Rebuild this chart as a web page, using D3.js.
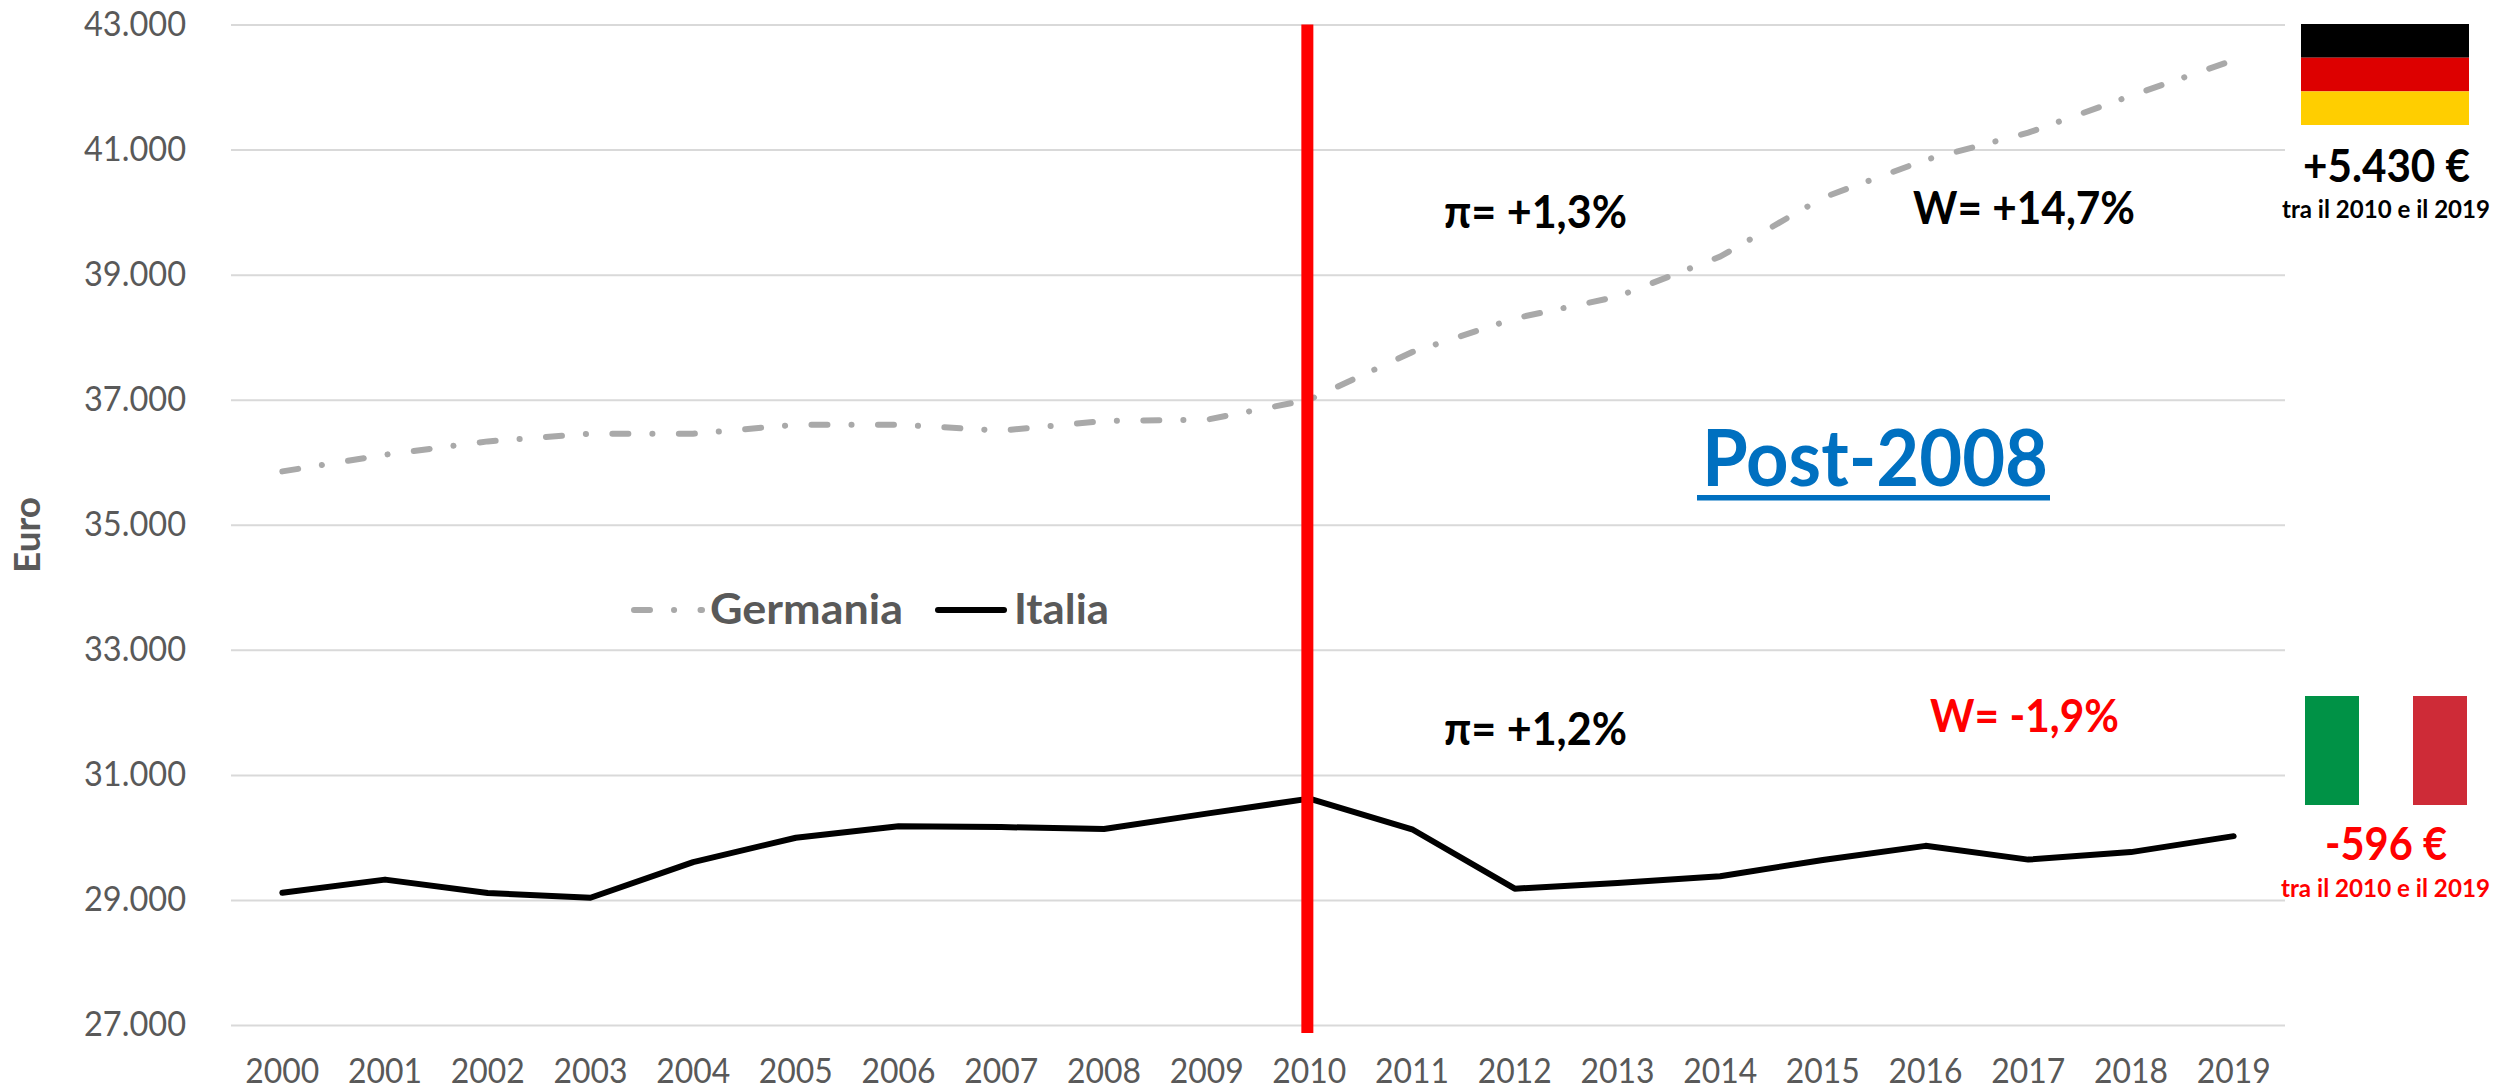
<!DOCTYPE html>
<html lang="en">
<head>
    <meta charset="UTF-8">
    <title>Germania / Italia Post-2008</title>
    <script src="https://d3js.org/d3.v7.min.js"></script>
    <style>
        body { margin: 0; background: white; }
        text { font-family: Lato, "Open Sans", sans-serif; }
    </style>
</head>
<body>
<script>
    const years = ["2000","2001","2002","2003","2004","2005","2006","2007","2008","2009",
        "2010","2011","2012","2013","2014","2015","2016","2017","2018","2019"];
    const germania = [35853,36120,36333,36456,36456,36600,36600,36505,36660,36680,
        37000,37760,38300,38648,39288,40230,40835,41270,41860,42430];
    const italia = [29115,29325,29110,29035,29605,29995,30180,30165,30135,30380,
        30620,30130,29180,29270,29380,29640,29865,29645,29765,30020];
    const yTicks = [27000,29000,31000,33000,35000,37000,39000,41000,43000];
    const breakYear = "2010";

    const width = 2496, height = 1089;
    const margin = {top: 24.5, right: 211, bottom: 64, left: 231};
    const grey = "#595959", dashGrey = "#A9A9A9";
    const dashes = "16 24 0.1 26.4";

    const svg = d3.select("body").append("svg")
        .attr("width", width).attr("height", height)
        .style("display", "block");

    const x = d3.scaleBand().domain(years).range([margin.left, width - margin.right]);
    const y = d3.scaleLinear().domain([27000, 43000]).range([height - margin.bottom, margin.top]);
    const euro = d3.formatLocale({decimal: ",", thousands: ".", grouping: [3], currency: ["", "€"]}).format(",d");

    // axes, gridlines are the long ticks of the left axis
    const yAxis = svg.append("g")
        .attr("transform", `translate(${margin.left},0)`)
        .call(d3.axisLeft(y).tickValues(yTicks).tickFormat(euro)
            .tickSize(-(width - margin.left - margin.right)).tickPadding(45));
    yAxis.select(".domain").remove();
    yAxis.selectAll("line").attr("stroke", "#D9D9D9").attr("stroke-width", 2);
    yAxis.selectAll("text")
        .attr("fill", grey).attr("font-size", 35).attr("dy", "0.3em")
        .attr("textLength", 102).attr("lengthAdjust", "spacingAndGlyphs");

    const xAxis = svg.append("g")
        .attr("transform", `translate(0,${height - margin.bottom})`)
        .call(d3.axisBottom(x).tickSize(0).tickPadding(33));
    xAxis.select(".domain").remove();
    xAxis.selectAll("text")
        .attr("fill", grey).attr("font-size", 35)
        .attr("textLength", 74).attr("lengthAdjust", "spacingAndGlyphs");

    const line = d3.line()
        .x((d, i) => x(years[i]) + x.bandwidth() / 2)
        .y(d => y(d));

    svg.append("path").datum(germania)
        .attr("d", line).attr("fill", "none")
        .attr("stroke", dashGrey).attr("stroke-width", 6)
        .attr("stroke-linecap", "round").attr("stroke-dasharray", dashes);

    svg.append("path").datum(italia)
        .attr("d", line).attr("fill", "none")
        .attr("stroke", "black").attr("stroke-width", 6)
        .attr("stroke-linecap", "round").attr("stroke-linejoin", "round");

    // red divider on 2010
    svg.append("rect")
        .attr("x", x(breakYear) + x.bandwidth() / 2 - 8)
        .attr("y", y(43000))
        .attr("width", 12)
        .attr("height", 1033 - y(43000))
        .attr("fill", "#FF0000");

    function label(txt, x0, x1, base, size, color, weight) {
        return svg.append("text")
            .attr("x", x0).attr("y", base)
            .attr("textLength", x1 - x0).attr("lengthAdjust", "spacingAndGlyphs")
            .attr("font-size", size).attr("font-weight", weight || 700)
            .attr("fill", color)
            .text(txt);
    }

    label("π= +1,3%", 1444, 1627, 228, 46, "black");
    label("W= +14,7%", 1913, 2135, 224, 46, "black");
    label("π= +1,2%", 1444, 1627, 745, 46, "black");
    label("W= -1,9%", 1930, 2119, 732, 46, "#FF0000");

    label("Post-2008", 1702, 2048, 486, 78, "#0070C0");
    svg.append("rect").attr("x", 1697).attr("y", 495).attr("width", 353).attr("height", 5.5).attr("fill", "#0070C0");

    // legend
    svg.append("line").attr("x1", 634).attr("x2", 702).attr("y1", 610).attr("y2", 610)
        .attr("stroke", dashGrey).attr("stroke-width", 6)
        .attr("stroke-linecap", "round").attr("stroke-dasharray", dashes);
    label("Germania", 710, 903, 624, 42, grey);
    svg.append("line").attr("x1", 938).attr("x2", 1004).attr("y1", 610).attr("y2", 610)
        .attr("stroke", "black").attr("stroke-width", 6).attr("stroke-linecap", "round");
    label("Italia", 1014, 1109, 624, 42, grey);

    // y title
    svg.append("text")
        .attr("transform", "translate(40,573) rotate(-90)")
        .attr("textLength", 76).attr("lengthAdjust", "spacingAndGlyphs")
        .attr("font-size", 36).attr("font-weight", 700).attr("fill", grey)
        .text("Euro");

    // flags
    [["#000000", 24, 33.7], ["#DD0000", 57.7, 33.7], ["#FFCE00", 91.4, 33.6]].forEach(s => {
        svg.append("rect").attr("x", 2301).attr("y", s[1]).attr("width", 168).attr("height", s[2]).attr("fill", s[0]);
    });
    [["#009246", 2305, 54], ["#FFFFFF", 2359, 54], ["#CE2B37", 2413, 54]].forEach(s => {
        svg.append("rect").attr("x", s[1]).attr("y", 696).attr("width", s[2]).attr("height", 109).attr("fill", s[0]);
    });

    label("+5.430 €", 2303, 2470, 182, 46, "black");
    label("tra il 2010 e il 2019", 2282, 2490, 218, 24, "black");
    label("-596 €", 2325, 2447, 860, 46, "#FF0000");
    label("tra il 2010 e il 2019", 2281, 2490, 897, 24, "#FF0000");
</script>
</body>
</html>
